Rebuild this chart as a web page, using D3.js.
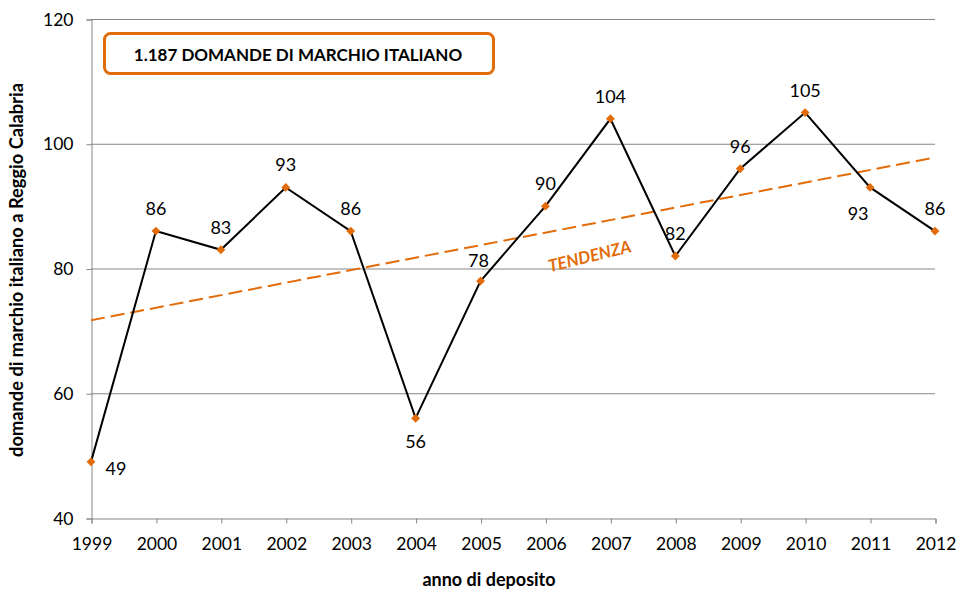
<!DOCTYPE html>
<html>
<head>
<meta charset="utf-8">
<script src="https://cdn.jsdelivr.net/npm/d3@7"></script>
<style>
  body { margin: 0; background: #fff; }
  svg text { font-family: Lato, "Open Sans", sans-serif; }
</style>
</head>
<body>
<div id="chart"></div>
<script>
// Chart data
var years = [1999, 2000, 2001, 2002, 2003, 2004, 2005, 2006, 2007, 2008, 2009, 2010, 2011, 2012];
var domande = [49, 86, 83, 93, 86, 56, 78, 90, 104, 82, 96, 105, 93, 86];
var yTicks = [40, 60, 80, 100, 120];
var trendEnds = [71.7, 97.8]; // trend line values at 1999 and 2012
// where each data label sits relative to its point
var labelPos = ["br", "t", "t", "t", "t", "b", "tl", "t", "t", "t", "t", "t", "bl", "t"];

var orange = "#E36C0A";
var gridGrey = "#868686";

var width = 959, height = 594;
var margin = { top: 19, right: 24, bottom: 76, left: 91 };
var innerW = width - margin.left - margin.right;
var innerH = height - margin.top - margin.bottom;

var svg = d3.select("#chart").append("svg")
    .attr("width", width)
    .attr("height", height);
var g = svg.append("g")
    .attr("transform", "translate(" + margin.left + "," + margin.top + ")");

var x = d3.scaleLinear().domain([1999, 2012]).range([0, innerW]);
var y = d3.scaleLinear().domain([40, 120]).range([innerH, 0]);

// Horizontal gridlines
g.append("g").selectAll("line")
  .data(yTicks.filter(d => d > 40))
  .join("line")
    .attr("x1", 0).attr("x2", innerW)
    .attr("y1", d => y(d) + 0.5).attr("y2", d => y(d) + 0.5)
    .style("stroke", gridGrey)
    .style("stroke-width", 1);

// Y axis
var yAxis = g.append("g")
    .attr("transform", "translate(0.5,0.5)")
    .call(d3.axisLeft(y).tickValues(yTicks).tickSize(5).tickPadding(13));
yAxis.select(".domain").style("stroke", gridGrey);
yAxis.selectAll(".tick line").style("stroke", gridGrey);
yAxis.selectAll(".tick text").style("font-size", "17.5px").style("fill", "#000");

// X axis
var xAxis = g.append("g")
    .attr("transform", "translate(0.5," + (innerH + 0.5) + ")")
    .call(d3.axisBottom(x).tickValues(years).tickFormat(d3.format("d")).tickSize(5).tickPadding(14));
xAxis.select(".domain").style("stroke", gridGrey);
xAxis.selectAll(".tick line").style("stroke", gridGrey);
xAxis.selectAll(".tick text").style("font-size", "17.5px").style("fill", "#000");

// Trend line
g.append("line")
    .attr("x1", x(years[0])).attr("y1", y(trendEnds[0]))
    .attr("x2", x(years[years.length - 1])).attr("y2", y(trendEnds[1]))
    .style("stroke", orange)
    .style("stroke-width", 2)
    .style("stroke-dasharray", "14,6");

// Main series line
var line = d3.line().x((d, i) => x(years[i])).y(d => y(d));
g.append("path")
    .datum(domande)
    .attr("d", line)
    .style("fill", "none")
    .style("stroke", "#000")
    .style("stroke-width", 2);

// Diamond markers
g.selectAll(".marker")
  .data(domande)
  .join("path")
    .attr("class", "marker")
    .attr("transform", (d, i) => "translate(" + x(years[i]) + "," + y(d) + ")")
    .attr("d", d3.symbol(d3.symbolDiamond2, 50))
    .style("fill", orange);

// Data labels
var offsets = {
  t:  [0, -16],
  b:  [0, 30],
  br: [25, 13],
  tl: [-2, -14],
  bl: [-12, 33]
};
g.selectAll(".dlabel")
  .data(domande)
  .join("text")
    .attr("class", "dlabel")
    .attr("x", (d, i) => x(years[i]) + offsets[labelPos[i]][0])
    .attr("y", (d, i) => y(d) + offsets[labelPos[i]][1])
    .attr("text-anchor", "middle")
    .style("font-size", "18px")
    .style("fill", "#000")
    .text(d => d);

// Trend label
g.append("text")
    .attr("transform", "translate(" + (591 - margin.left) + "," + (262 - margin.top) + ") rotate(-14)")
    .attr("text-anchor", "middle")
    .style("font-size", "17px")
    .style("font-weight", "bold")
    .style("font-style", "italic")
    .style("fill", orange)
    .text("TENDENZA");

// Title box
svg.append("rect")
    .attr("x", 104.5).attr("y", 33.5)
    .attr("width", 389).attr("height", 40)
    .attr("rx", 6)
    .style("fill", "#fff")
    .style("stroke", orange)
    .style("stroke-width", 3);
svg.append("text")
    .attr("x", 298).attr("y", 61)
    .attr("text-anchor", "middle")
    .style("font-size", "17px")
    .style("font-weight", "bold")
    .style("fill", "#000")
    .text("1.187 DOMANDE DI MARCHIO ITALIANO");

// Axis titles
svg.append("text")
    .attr("x", 489).attr("y", 586)
    .attr("text-anchor", "middle")
    .style("font-size", "18px")
    .style("font-weight", "bold")
    .text("anno di deposito");
svg.append("text")
    .attr("transform", "translate(23,270) rotate(-90)")
    .attr("text-anchor", "middle")
    .style("font-size", "18.3px")
    .style("font-weight", "bold")
    .text("domande di marchio italiano a Reggio Calabria");
</script>
</body>
</html>
